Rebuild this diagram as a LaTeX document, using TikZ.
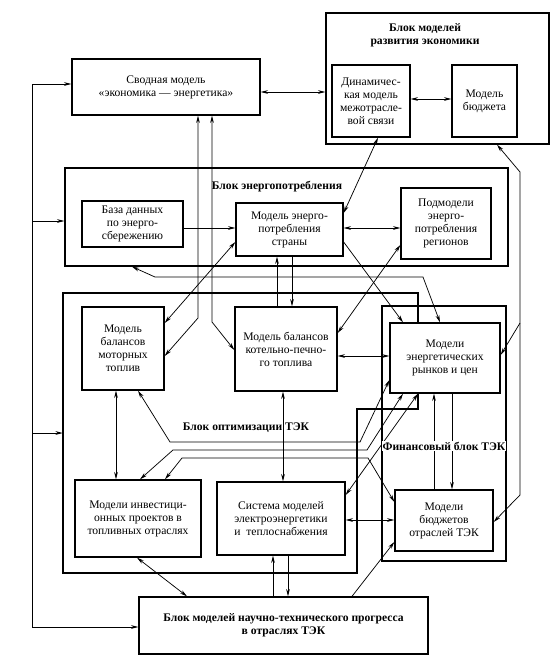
\documentclass[tikz,border=0pt]{standalone}
\usepackage{fontspec}
\setmainfont{Liberation Serif}
\usetikzlibrary{arrows.meta}
\begin{document}
\begin{tikzpicture}[x=0.75pt,y=-0.75pt,
  >={Stealth[length=5.5pt,width=2.8pt]},
  box/.style={draw, line width=1pt, fill=white, align=center, inner sep=1pt,
              font=\fontsize{8.7}{9.8}\selectfont},
  blk/.style={draw, line width=1pt, fill=white, inner sep=0pt},
  ttl/.style={font=\bfseries\fontsize{8.7}{9.8}\selectfont, align=center, inner sep=1pt},
  con/.style={line width=0.55pt}]
\useasboundingbox (0,0) rectangle (558,669);

% ---- blocks ----
\node[blk, minimum width=167.25pt, minimum height=98.25pt] (razv) at (437.5,78.5) {};
\node[ttl] (razvt) at (425,35) {Блок моделей\\развития экономики};
\node[blk, minimum width=332.25pt, minimum height=73.5pt] (enb) at (286.5,217) {};
\node[ttl] (enbt) at (277,187) {Блок энергопотребления};
\node[inner sep=0pt, minimum width=220.5pt, minimum height=210pt] (optb) at (210,433) {};
\draw[line width=1pt] (63,293) -- (418,293) -- (418,409) -- (357,409) -- (357,573) -- (63,573) -- cycle;
\node[ttl] (optt) at (246,428) {Блок оптимизации ТЭК};
\node[blk, fill=none, minimum width=93pt, minimum height=191.25pt] (finb) at (444,433.5) {};

% ---- boxes ----
\node[box, minimum width=141pt, minimum height=42pt] (svod) at (166,87) {Сводная модель\\«экономика — энергетика»};
\node[box, minimum width=58.5pt, minimum height=54pt] (din) at (371,101) {Динамичес-\\кая модель\\межотрасле-\\вой связи};
\node[box, minimum width=48.75pt, minimum height=54pt] (bud) at (484.5,101) {Модель\\бюджета};
\node[box, minimum width=75.75pt, minimum height=34.5pt] (baza) at (132.5,224) {База данных\\по энерго-\\сбережению};
\node[box, minimum width=80.25pt, minimum height=39.75pt] (enmod) at (289.5,229.5) {Модель энерго-\\потребления\\страны};
\node[box, minimum width=67.5pt, minimum height=53.25pt] (reg) at (446,223.5) {Подмодели\\энерго-\\потребления\\регионов};
\node[box, minimum width=61.5pt, minimum height=62.25pt] (mot) at (123,348.5) {Модель\\балансов\\моторных\\топлив};
\node[box, minimum width=76.5pt, minimum height=63pt] (kot) at (286,349) {Модель балансов\\котельно-печно-\\го топлива};
\node[box, minimum width=82.5pt, minimum height=52.5pt] (ryn) at (445,358) {Модели\\энергетических\\рынков и цен};
\node[box, minimum width=94.5pt, minimum height=57.75pt] (inv) at (138,518.5) {Модели инвестици-\\онных проектов в\\топливных отраслях};
\node[box, minimum width=96pt, minimum height=54.75pt] (sys) at (281,518.5) {Система моделей\\электроэнергетики\\и~~теплоснабжения};
\node[box, minimum width=73.5pt, minimum height=45.75pt] (bud2) at (444,520.5) {Модели\\бюджетов\\отраслей ТЭК};
\node[box, font=\bfseries\fontsize{8.7}{9.8}\selectfont, minimum width=216.75pt, minimum height=42.75pt] (ntp) at (283.5,625.5) {Блок моделей научно-технического прогресса\\в отраслях ТЭК};

% ---- connectors ----
\draw[con,<->] (svod.east |- 0,92) -- (razv.west |- 0,92);
\draw[con,<->] (din.east |- 0,99) -- (bud.west |- 0,99);
% left trunk
\coordinate (lt) at (32,84); \coordinate (lb) at (32,627);
\coordinate (lm1) at (32,221); \coordinate (lm2) at (32,433);
\draw[con,<->] (svod.west |- lt) -- (lt) -- (lb) -- (ntp.west |- lb);
\draw[con,->] (lm1) -- (enb.west |- lm1);
\draw[con,->] (lm2) -- (optb.west |- lm2);
% from svod down
\draw[con,<->] (svod.south -| 198,0) -- (198,318) -- (mot.east |- 0,356);
\draw[con,<->] (svod.south -| 212,0) -- (212,322) -- (kot.west |- 0,350);
% energy block
\draw[con,<->] (enmod.east |- 0,213) -- (din.south -| 378,0);
\draw[con,->] (baza.east |- 0,228) -- (enmod.west |- 0,228);
\draw[con,<->] (enmod.east |- 0,228) -- (reg.west |- 0,228);
\draw[con,<->] (enmod.west |- 0,242) -- (mot.east |- 0,323);
\draw[con,->] (enmod.east |- 0,242) -- (ryn.north -| 403,0);
\draw[con,<->] (reg.west |- 0,245) -- (kot.east |- 0,333);
\draw[con,<->] (enb.south -| 132,0) -- (155,277) -- (423,277) -- (ryn.north -| 440,0);
\draw[con,->] (kot.north -| 277,0) -- (enmod.south -| 277,0);
\draw[con,->] (enmod.south -| 292,0) -- (kot.north -| 292,0);
% optimisation block
\draw[con,<->] (kot.east |- 0,356) -- (ryn.west |- 0,356);
\draw[con,<->] (kot.south -| 283,0) -- (sys.north -| 283,0);
\draw[con,<->] (mot.south -| 116,0) -- (inv.north -| 116,0);
\draw[con,<->] (mot.south -| 138,0) -- (170,442) -- (360,442) -- (ryn.west |- 0,380);
\draw[con,<->] (inv.north -| 140,0) -- (173,450) -- (367,450) -- (ryn.south -| 403,0);
\draw[con,<->] (inv.north -| 165,0) -- (182,458) -- (368,458) -- (bud2.west |- 0,502);
\draw[con,<->] (sys.east |- 0,495) -- (ryn.south -| 418,0);
\draw[con,->] (bud2.north -| 434,0) -- (ryn.south -| 434,0);
\draw[con,->] (ryn.south -| 452,0) -- (bud2.north -| 452,0);
\draw[con,<->] (sys.east |- 0,520) -- (bud2.west |- 0,520);
\draw[con,->] (ntp.north -| 273,0) -- (sys.south -| 273,0);
\draw[con,->] (sys.south -| 288,0) -- (ntp.north -| 288,0);
\draw[con,<->] (inv.south -| 137,0) -- (ntp.north -| 187,0);
\draw[con,->] (ntp.north -| 352,0) -- (bud2.west |- 0,542);
% right trunk
\coordinate (rt) at (520,172); \coordinate (rb) at (520,495); \coordinate (rm) at (520,323);
\draw[con,<->] (razv.south -| 497,0) -- (rt) -- (rb) -- (bud2.east |- 0,522);
\draw[con,->] (rm) -- (ryn.east |- 0,355);

\node[ttl, fill=white, inner sep=0.5pt] (fint) at (444,446) {Финансовый блок ТЭК};
\end{tikzpicture}
\end{document}
